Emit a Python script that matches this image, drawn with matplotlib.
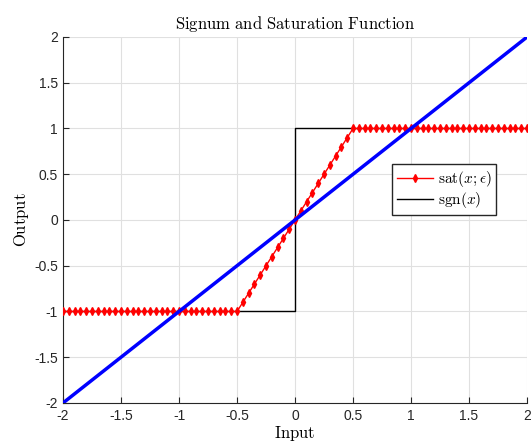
import matplotlib
matplotlib.use('Agg')
from matplotlib import pyplot as plt

plt.rcParams['mathtext.fontset'] = 'cm'
plt.rcParams['font.family'] = ['Liberation Sans', 'DejaVu Sans']

# input grid and saturation output (epsilon = 0.5)
x_in = [-2.00, -1.95, -1.90, -1.85, -1.80, -1.75, -1.70, -1.65, -1.60, -1.55,
        -1.50, -1.45, -1.40, -1.35, -1.30, -1.25, -1.20, -1.15, -1.10, -1.05,
        -1.00, -0.95, -0.90, -0.85, -0.80, -0.75, -0.70, -0.65, -0.60, -0.55,
        -0.50, -0.45, -0.40, -0.35, -0.30, -0.25, -0.20, -0.15, -0.10, -0.05,
        0.00, 0.05, 0.10, 0.15, 0.20, 0.25, 0.30, 0.35, 0.40, 0.45,
        0.50, 0.55, 0.60, 0.65, 0.70, 0.75, 0.80, 0.85, 0.90, 0.95,
        1.00, 1.05, 1.10, 1.15, 1.20, 1.25, 1.30, 1.35, 1.40, 1.45,
        1.50, 1.55, 1.60, 1.65, 1.70, 1.75, 1.80, 1.85, 1.90, 1.95, 2.00]
sat_out = [-1, -1, -1, -1, -1, -1, -1, -1, -1, -1,
           -1, -1, -1, -1, -1, -1, -1, -1, -1, -1,
           -1, -1, -1, -1, -1, -1, -1, -1, -1, -1,
           -1.0, -0.9, -0.8, -0.7, -0.6, -0.5, -0.4, -0.3, -0.2, -0.1,
           0.0, 0.1, 0.2, 0.3, 0.4, 0.5, 0.6, 0.7, 0.8, 0.9,
           1, 1, 1, 1, 1, 1, 1, 1, 1, 1,
           1, 1, 1, 1, 1, 1, 1, 1, 1, 1,
           1, 1, 1, 1, 1, 1, 1, 1, 1, 1, 1]

# signum function
sgn_x = [-2, 0, 0, 2]
sgn_y = [-1, -1, 1, 1]

# identity line
lin_x = [-2, 2]
lin_y = [-2, 2]

ticks = [-2, -1.5, -1, -0.5, 0, 0.5, 1, 1.5, 2]
tick_labels = ['-2', '-1.5', '-1', '-0.5', '0', '0.5', '1', '1.5', '2']

fig = plt.figure(figsize=(5.31, 4.45), dpi=100)
ax = fig.add_axes([0.1186, 0.0944, 0.874, 0.8225])

ax.plot(x_in, sat_out, color='red', linewidth=1, marker='d', markersize=3.6,
        label=r'$\mathrm{sat}(x;\epsilon)$', zorder=3)
ax.plot(sgn_x, sgn_y, color='black', linewidth=1, label=r'$\mathrm{sgn}(x)$', zorder=2)
ax.plot(lin_x, lin_y, color='blue', linewidth=2.5, zorder=4)

ax.set_xlim(-2, 2)
ax.set_ylim(-2, 2)
ax.set_xticks(ticks)
ax.set_xticklabels(tick_labels)
ax.set_yticks(ticks)
ax.set_yticklabels(tick_labels)
ax.tick_params(direction='in', length=4, labelsize=10, colors='#262626')
ax.tick_params(axis='x', pad=4)
ax.grid(True, color='#e0e0e0', linewidth=0.8)
ax.set_axisbelow(True)

for name in ('top', 'right'):
    ax.spines[name].set_visible(False)
for name in ('left', 'bottom'):
    ax.spines[name].set_color('#262626')

ax.set_title(r'$\mathrm{Signum\ and\ Saturation\ Function}$', fontsize=12, pad=6)
ax.set_xlabel(r'$\mathrm{Input}$', fontsize=12, labelpad=1)
ax.set_ylabel(r'$\mathrm{Output}$', fontsize=12, labelpad=2)

ax.legend(loc='upper left', bbox_to_anchor=(0.709, 0.652), fontsize=11,
          fancybox=False, edgecolor='#262626', framealpha=1,
          handlelength=2.4, borderpad=0.3, labelspacing=0.1, handletextpad=0.3,
          borderaxespad=0)

fig.savefig('out.png', dpi=100)
